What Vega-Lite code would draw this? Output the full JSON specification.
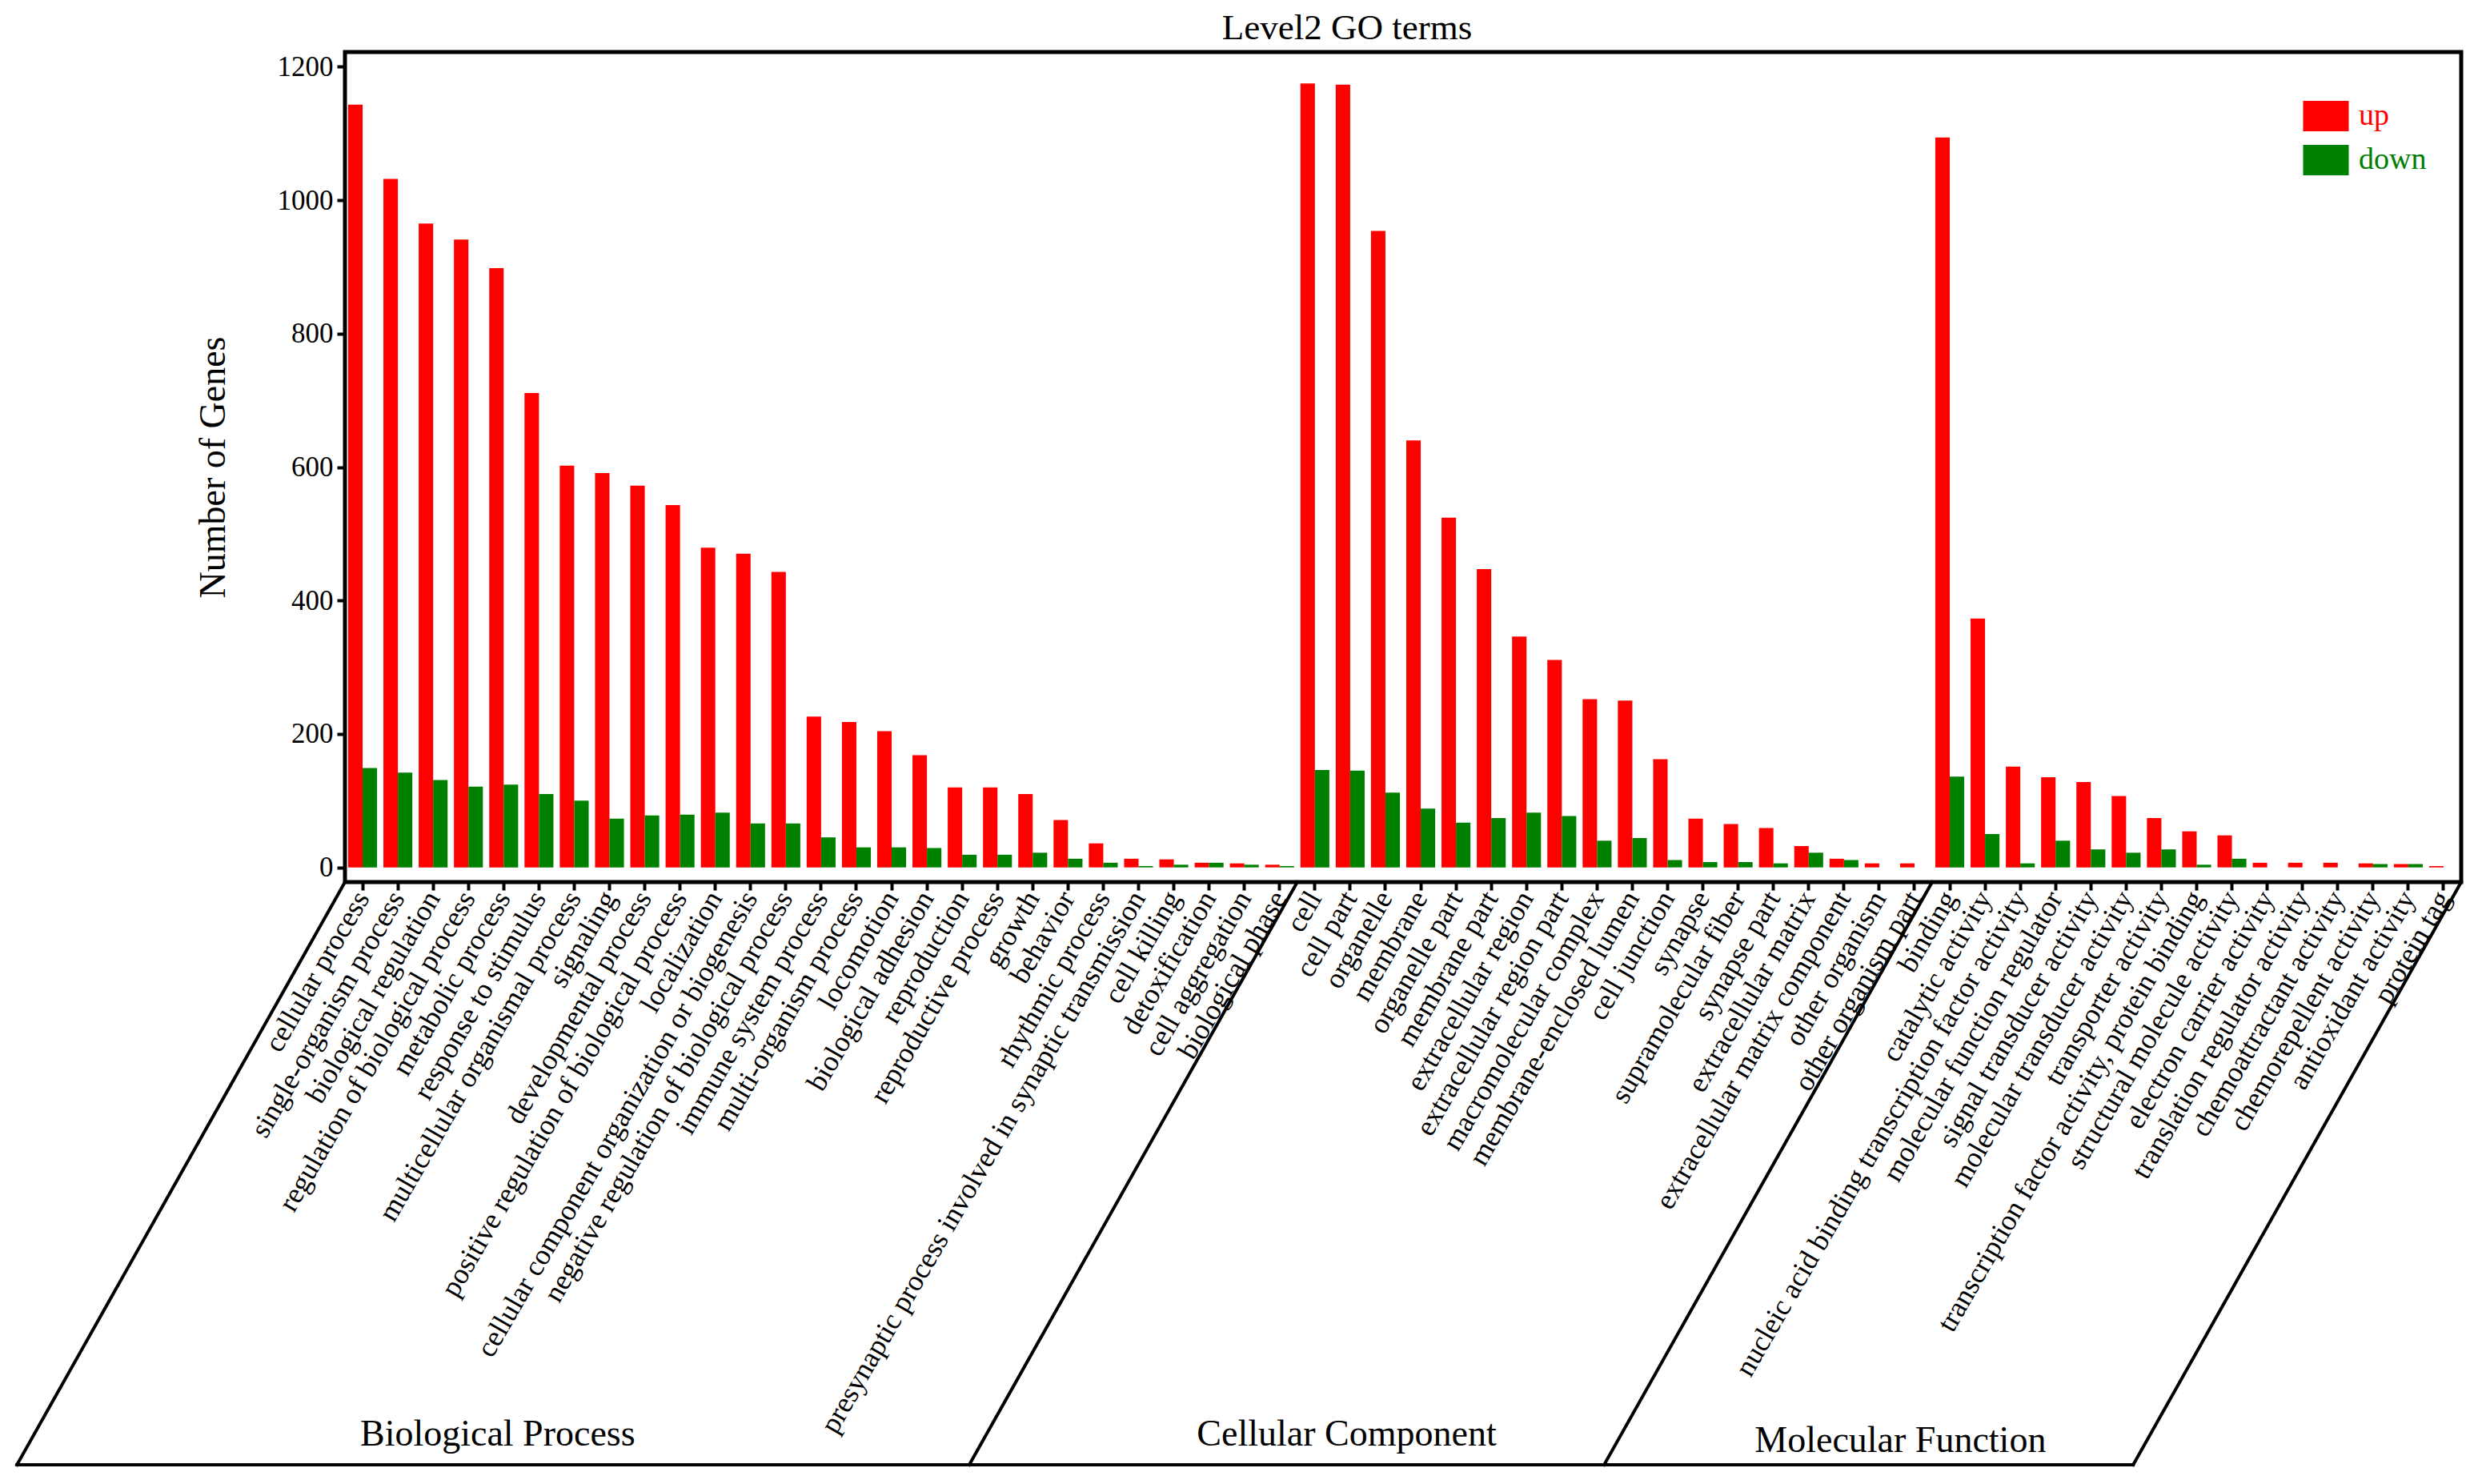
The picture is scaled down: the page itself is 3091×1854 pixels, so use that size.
{
  "$schema": "https://vega.github.io/schema/vega-lite/v6.json",
  "width": 2644,
  "height": 1037,
  "autosize": {"type": "none"},
  "padding": {"left": 431, "top": 65, "right": 16, "bottom": 752},
  "background": "white",
  "config": {
    "view": {"stroke": "black", "strokeWidth": 5},
    "font": "Liberation Serif"
  },
  "title": {
    "text": "Level2 GO terms",
    "font": "Liberation Serif",
    "fontSize": 45,
    "fontWeight": "normal",
    "color": "black",
    "anchor": "middle",
    "frame": "group",
    "dx": -70,
    "offset": -29,
    "baseline": "alphabetic"
  },
  "datasets": {
    "bars": [
      {"term": "cellular process", "ontology": "Biological Process", "type": "up", "count": 1143},
      {"term": "cellular process", "ontology": "Biological Process", "type": "down", "count": 149},
      {"term": "single-organism process", "ontology": "Biological Process", "type": "up", "count": 1032},
      {"term": "single-organism process", "ontology": "Biological Process", "type": "down", "count": 142},
      {"term": "biological regulation", "ontology": "Biological Process", "type": "up", "count": 965},
      {"term": "biological regulation", "ontology": "Biological Process", "type": "down", "count": 131},
      {"term": "regulation of biological process", "ontology": "Biological Process", "type": "up", "count": 941},
      {"term": "regulation of biological process", "ontology": "Biological Process", "type": "down", "count": 121},
      {"term": "metabolic process", "ontology": "Biological Process", "type": "up", "count": 898},
      {"term": "metabolic process", "ontology": "Biological Process", "type": "down", "count": 124},
      {"term": "response to stimulus", "ontology": "Biological Process", "type": "up", "count": 711},
      {"term": "response to stimulus", "ontology": "Biological Process", "type": "down", "count": 110},
      {"term": "multicellular organismal process", "ontology": "Biological Process", "type": "up", "count": 602},
      {"term": "multicellular organismal process", "ontology": "Biological Process", "type": "down", "count": 100},
      {"term": "signaling", "ontology": "Biological Process", "type": "up", "count": 591},
      {"term": "signaling", "ontology": "Biological Process", "type": "down", "count": 73},
      {"term": "developmental process", "ontology": "Biological Process", "type": "up", "count": 572},
      {"term": "developmental process", "ontology": "Biological Process", "type": "down", "count": 78},
      {"term": "positive regulation of biological process", "ontology": "Biological Process", "type": "up", "count": 543},
      {"term": "positive regulation of biological process", "ontology": "Biological Process", "type": "down", "count": 79},
      {"term": "localization", "ontology": "Biological Process", "type": "up", "count": 479},
      {"term": "localization", "ontology": "Biological Process", "type": "down", "count": 82},
      {"term": "cellular component organization or biogenesis", "ontology": "Biological Process", "type": "up", "count": 470},
      {"term": "cellular component organization or biogenesis", "ontology": "Biological Process", "type": "down", "count": 66},
      {"term": "negative regulation of biological process", "ontology": "Biological Process", "type": "up", "count": 443},
      {"term": "negative regulation of biological process", "ontology": "Biological Process", "type": "down", "count": 66},
      {"term": "immune system process", "ontology": "Biological Process", "type": "up", "count": 226},
      {"term": "immune system process", "ontology": "Biological Process", "type": "down", "count": 45},
      {"term": "multi-organism process", "ontology": "Biological Process", "type": "up", "count": 218},
      {"term": "multi-organism process", "ontology": "Biological Process", "type": "down", "count": 30},
      {"term": "locomotion", "ontology": "Biological Process", "type": "up", "count": 204},
      {"term": "locomotion", "ontology": "Biological Process", "type": "down", "count": 30},
      {"term": "biological adhesion", "ontology": "Biological Process", "type": "up", "count": 168},
      {"term": "biological adhesion", "ontology": "Biological Process", "type": "down", "count": 29},
      {"term": "reproduction", "ontology": "Biological Process", "type": "up", "count": 120},
      {"term": "reproduction", "ontology": "Biological Process", "type": "down", "count": 19},
      {"term": "reproductive process", "ontology": "Biological Process", "type": "up", "count": 120},
      {"term": "reproductive process", "ontology": "Biological Process", "type": "down", "count": 19},
      {"term": "growth", "ontology": "Biological Process", "type": "up", "count": 110},
      {"term": "growth", "ontology": "Biological Process", "type": "down", "count": 22},
      {"term": "behavior", "ontology": "Biological Process", "type": "up", "count": 71},
      {"term": "behavior", "ontology": "Biological Process", "type": "down", "count": 13},
      {"term": "rhythmic process", "ontology": "Biological Process", "type": "up", "count": 36},
      {"term": "rhythmic process", "ontology": "Biological Process", "type": "down", "count": 7},
      {"term": "presynaptic process involved in synaptic transmission", "ontology": "Biological Process", "type": "up", "count": 13},
      {"term": "presynaptic process involved in synaptic transmission", "ontology": "Biological Process", "type": "down", "count": 2},
      {"term": "cell killing", "ontology": "Biological Process", "type": "up", "count": 12},
      {"term": "cell killing", "ontology": "Biological Process", "type": "down", "count": 4},
      {"term": "detoxification", "ontology": "Biological Process", "type": "up", "count": 7},
      {"term": "detoxification", "ontology": "Biological Process", "type": "down", "count": 7},
      {"term": "cell aggregation", "ontology": "Biological Process", "type": "up", "count": 6},
      {"term": "cell aggregation", "ontology": "Biological Process", "type": "down", "count": 4},
      {"term": "biological phase", "ontology": "Biological Process", "type": "up", "count": 4},
      {"term": "biological phase", "ontology": "Biological Process", "type": "down", "count": 2},
      {"term": "cell", "ontology": "Cellular Component", "type": "up", "count": 1175},
      {"term": "cell", "ontology": "Cellular Component", "type": "down", "count": 146},
      {"term": "cell part", "ontology": "Cellular Component", "type": "up", "count": 1173},
      {"term": "cell part", "ontology": "Cellular Component", "type": "down", "count": 145},
      {"term": "organelle", "ontology": "Cellular Component", "type": "up", "count": 954},
      {"term": "organelle", "ontology": "Cellular Component", "type": "down", "count": 112},
      {"term": "membrane", "ontology": "Cellular Component", "type": "up", "count": 640},
      {"term": "membrane", "ontology": "Cellular Component", "type": "down", "count": 88},
      {"term": "organelle part", "ontology": "Cellular Component", "type": "up", "count": 524},
      {"term": "organelle part", "ontology": "Cellular Component", "type": "down", "count": 67},
      {"term": "membrane part", "ontology": "Cellular Component", "type": "up", "count": 447},
      {"term": "membrane part", "ontology": "Cellular Component", "type": "down", "count": 74},
      {"term": "extracellular region", "ontology": "Cellular Component", "type": "up", "count": 346},
      {"term": "extracellular region", "ontology": "Cellular Component", "type": "down", "count": 82},
      {"term": "extracellular region part", "ontology": "Cellular Component", "type": "up", "count": 311},
      {"term": "extracellular region part", "ontology": "Cellular Component", "type": "down", "count": 77},
      {"term": "macromolecular complex", "ontology": "Cellular Component", "type": "up", "count": 252},
      {"term": "macromolecular complex", "ontology": "Cellular Component", "type": "down", "count": 40},
      {"term": "membrane-enclosed lumen", "ontology": "Cellular Component", "type": "up", "count": 250},
      {"term": "membrane-enclosed lumen", "ontology": "Cellular Component", "type": "down", "count": 44},
      {"term": "cell junction", "ontology": "Cellular Component", "type": "up", "count": 162},
      {"term": "cell junction", "ontology": "Cellular Component", "type": "down", "count": 11},
      {"term": "synapse", "ontology": "Cellular Component", "type": "up", "count": 73},
      {"term": "synapse", "ontology": "Cellular Component", "type": "down", "count": 8},
      {"term": "supramolecular fiber", "ontology": "Cellular Component", "type": "up", "count": 65},
      {"term": "supramolecular fiber", "ontology": "Cellular Component", "type": "down", "count": 8},
      {"term": "synapse part", "ontology": "Cellular Component", "type": "up", "count": 59},
      {"term": "synapse part", "ontology": "Cellular Component", "type": "down", "count": 6},
      {"term": "extracellular matrix", "ontology": "Cellular Component", "type": "up", "count": 32},
      {"term": "extracellular matrix", "ontology": "Cellular Component", "type": "down", "count": 22},
      {"term": "extracellular matrix component", "ontology": "Cellular Component", "type": "up", "count": 13},
      {"term": "extracellular matrix component", "ontology": "Cellular Component", "type": "down", "count": 11},
      {"term": "other organism", "ontology": "Cellular Component", "type": "up", "count": 6},
      {"term": "other organism", "ontology": "Cellular Component", "type": "down", "count": 0},
      {"term": "other organism part", "ontology": "Cellular Component", "type": "up", "count": 6},
      {"term": "other organism part", "ontology": "Cellular Component", "type": "down", "count": 0},
      {"term": "binding", "ontology": "Molecular Function", "type": "up", "count": 1094},
      {"term": "binding", "ontology": "Molecular Function", "type": "down", "count": 136},
      {"term": "catalytic activity", "ontology": "Molecular Function", "type": "up", "count": 373},
      {"term": "catalytic activity", "ontology": "Molecular Function", "type": "down", "count": 50},
      {"term": "nucleic acid binding transcription factor activity", "ontology": "Molecular Function", "type": "up", "count": 151},
      {"term": "nucleic acid binding transcription factor activity", "ontology": "Molecular Function", "type": "down", "count": 6},
      {"term": "molecular function regulator", "ontology": "Molecular Function", "type": "up", "count": 135},
      {"term": "molecular function regulator", "ontology": "Molecular Function", "type": "down", "count": 40},
      {"term": "signal transducer activity", "ontology": "Molecular Function", "type": "up", "count": 128},
      {"term": "signal transducer activity", "ontology": "Molecular Function", "type": "down", "count": 27},
      {"term": "molecular transducer activity", "ontology": "Molecular Function", "type": "up", "count": 107},
      {"term": "molecular transducer activity", "ontology": "Molecular Function", "type": "down", "count": 22},
      {"term": "transporter activity", "ontology": "Molecular Function", "type": "up", "count": 74},
      {"term": "transporter activity", "ontology": "Molecular Function", "type": "down", "count": 27},
      {"term": "transcription factor activity, protein binding", "ontology": "Molecular Function", "type": "up", "count": 54},
      {"term": "transcription factor activity, protein binding", "ontology": "Molecular Function", "type": "down", "count": 4},
      {"term": "structural molecule activity", "ontology": "Molecular Function", "type": "up", "count": 48},
      {"term": "structural molecule activity", "ontology": "Molecular Function", "type": "down", "count": 13},
      {"term": "electron carrier activity", "ontology": "Molecular Function", "type": "up", "count": 7},
      {"term": "electron carrier activity", "ontology": "Molecular Function", "type": "down", "count": 0},
      {"term": "translation regulator activity", "ontology": "Molecular Function", "type": "up", "count": 7},
      {"term": "translation regulator activity", "ontology": "Molecular Function", "type": "down", "count": 0},
      {"term": "chemoattractant activity", "ontology": "Molecular Function", "type": "up", "count": 7},
      {"term": "chemoattractant activity", "ontology": "Molecular Function", "type": "down", "count": 0},
      {"term": "chemorepellent activity", "ontology": "Molecular Function", "type": "up", "count": 6},
      {"term": "chemorepellent activity", "ontology": "Molecular Function", "type": "down", "count": 5},
      {"term": "antioxidant activity", "ontology": "Molecular Function", "type": "up", "count": 5},
      {"term": "antioxidant activity", "ontology": "Molecular Function", "type": "down", "count": 5},
      {"term": "protein tag", "ontology": "Molecular Function", "type": "up", "count": 2},
      {"term": "protein tag", "ontology": "Molecular Function", "type": "down", "count": 0}
    ],
    "outline": [
      {"x": 0, "y": 0, "x2": -9.3, "y2": -0.702},
      {"x": 27, "y": 0, "x2": 17.7, "y2": -0.702},
      {"x": 45, "y": 0, "x2": 35.7, "y2": -0.702},
      {"x": 60, "y": 0, "x2": 50.7, "y2": -0.702},
      {"x": -9.3, "y": -0.702, "x2": 50.7, "y2": -0.702}
    ],
    "groups": [
      {"label": "Biological Process", "x": 4.33, "y": -0.679},
      {"label": "Cellular Component", "x": 28.4, "y": -0.679},
      {"label": "Molecular Function", "x": 44.1, "y": -0.687}
    ]
  },
  "layer": [
    {
      "data": {"name": "bars"},
      "mark": {"type": "bar"},
      "encoding": {
        "x": {
          "field": "term",
          "type": "nominal",
          "sort": null,
          "scale": {"paddingInner": 0.18, "paddingOuter": 0.09},
          "axis": {
            "title": null,
            "labelAngle": -60,
            "labelAlign": "right",
            "labelBaseline": "middle",
            "labelFont": "Liberation Serif",
            "labelFontSize": 36,
            "labelColor": "black",
            "labelOverlap": false,
            "labelLimit": 2000,
            "labelPadding": 4,
            "tickSize": 10,
            "tickWidth": 4,
            "tickColor": "black",
            "domain": false,
            "grid": false
          }
        },
        "xOffset": {
          "field": "type",
          "type": "nominal",
          "sort": ["up", "down"],
          "scale": {"domain": ["up", "down"], "paddingInner": 0, "paddingOuter": 0}
        },
        "y": {
          "field": "count",
          "type": "quantitative",
          "scale": {"domain": [-22, 1222], "nice": false, "zero": false},
          "axis": {
            "title": "Number of Genes",
            "values": [0, 200, 400, 600, 800, 1000, 1200],
            "format": "d",
            "labelFont": "Liberation Serif",
            "labelFontSize": 35,
            "labelColor": "black",
            "labelPadding": 5,
            "tickSize": 10,
            "tickWidth": 4,
            "tickColor": "black",
            "domain": false,
            "grid": false,
            "titleFont": "Liberation Serif",
            "titleFontSize": 46,
            "titleFontWeight": "normal",
            "titleColor": "black",
            "titlePadding": 56
          }
        },
        "y2": {"datum": 0},
        "color": {
          "field": "type",
          "type": "nominal",
          "scale": {"domain": ["up", "down"], "range": ["#ff0000", "#008000"]},
          "legend": {
            "title": null,
            "orient": "none",
            "legendX": 2456,
            "legendY": 61,
            "symbolType": "M-1.5,-1H1.5V1H-1.5Z",
            "symbolSize": 1444,
            "symbolStrokeWidth": 0,
            "labelFont": "Liberation Serif",
            "labelFontSize": 38,
            "labelOffset": 22,
            "rowPadding": 17,
            "encode": {
              "labels": {
                "update": {
                  "fill": {"signal": "datum.value === 'up' ? '#ff0000' : '#008000'"}
                }
              }
            }
          }
        }
      }
    },
    {
      "data": {"name": "outline"},
      "mark": {"type": "rule", "strokeWidth": 4, "color": "black", "strokeCap": "square"},
      "encoding": {
        "x": {"field": "x", "type": "quantitative", "scale": {"domain": [0, 60], "nice": false, "zero": false}, "axis": null},
        "y": {"field": "y", "type": "quantitative", "scale": {"domain": [0, 1], "nice": false, "zero": false}, "axis": null},
        "x2": {"field": "x2"},
        "y2": {"field": "y2"}
      }
    },
    {
      "data": {"name": "groups"},
      "mark": {"type": "text", "font": "Liberation Serif", "fontSize": 46, "align": "center", "baseline": "alphabetic", "color": "black"},
      "encoding": {
        "x": {"field": "x", "type": "quantitative", "scale": {"domain": [0, 60], "nice": false, "zero": false}, "axis": null},
        "y": {"field": "y", "type": "quantitative", "scale": {"domain": [0, 1], "nice": false, "zero": false}, "axis": null},
        "text": {"field": "label"}
      }
    }
  ],
  "resolve": {"scale": {"x": "independent", "y": "independent", "color": "shared"}}
}
